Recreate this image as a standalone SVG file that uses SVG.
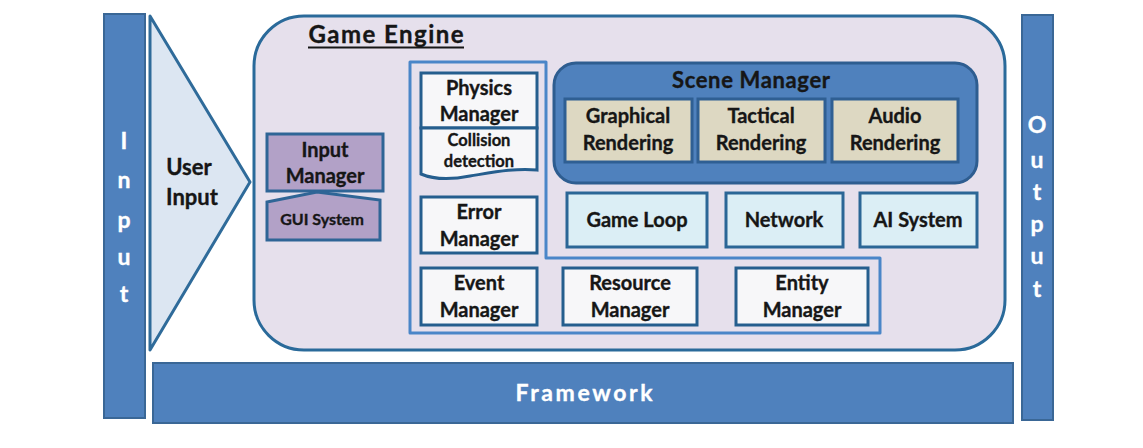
<svg xmlns="http://www.w3.org/2000/svg" width="1143" height="448" viewBox="0 0 1143 448">
<style>
text{font-family:Lato,"Open Sans","Liberation Sans",sans-serif;font-weight:bold;fill:#161616;stroke:#161616;stroke-width:0.35;text-anchor:middle}
.bar{fill:#4F81BD;stroke:#3A6796;stroke-width:2}
.wt{fill:#ffffff;stroke:#ffffff;font-size:23px}
.wbox{fill:#F7F7F9;stroke:#255E8E;stroke-width:3}
.tan{fill:#DDD8C2;stroke:#2F5F93;stroke-width:3}
.lb{fill:#DBEEF5;stroke:#2B6696;stroke-width:3}
.pur{fill:#B2A1C7;stroke:#2F6596;stroke-width:3}
.t18{font-size:20px}
</style>
<rect width="1143" height="448" fill="#ffffff"/>
<g id="input-bar">
<rect class="bar" x="104" y="14" width="41" height="404"/>
<text class="wt" x="124" y="149">I</text>
<text class="wt" x="124" y="188">n</text>
<text class="wt" x="124" y="228">p</text>
<text class="wt" x="124" y="265">u</text>
<text class="wt" x="124" y="302">t</text>
</g>
<g id="output-bar">
<rect class="bar" x="1022" y="15" width="31" height="405"/>
<text class="wt" x="1037" y="133">O</text>
<text class="wt" x="1037" y="168">u</text>
<text class="wt" x="1037" y="200">t</text>
<text class="wt" x="1037" y="232">p</text>
<text class="wt" x="1037" y="264">u</text>
<text class="wt" x="1037" y="297">t</text>
</g>
<g id="framework">
<rect class="bar" x="153" y="363" width="860" height="60"/>
<text class="wt" x="584" y="401" font-size="25" textLength="137">Framework</text>
</g>
<g id="user-input">
<polygon points="150,16 250,182 150,350" fill="#DCE6F2" stroke="#2F6B9A" stroke-width="3" stroke-linejoin="round"/>
<text x="189" y="175" font-size="22">User</text>
<text x="192" y="205" font-size="22">Input</text>
</g>
<g id="game-engine">
<rect x="254" y="16" width="751" height="334" rx="50" fill="#E6E0EC" stroke="#2A6A9A" stroke-width="3"/>
<text x="386" y="43" font-size="24" textLength="155">Game Engine</text>
<line x1="308" y1="47.5" x2="464" y2="47.5" stroke="#161616" stroke-width="2"/>
</g>
<g id="core-container">
<path d="M410,62 H546 V258 H880 V333 H410 Z" fill="none" stroke="#4A86C8" stroke-width="3" stroke-linejoin="round"/>
</g>
<g id="input-manager">
<rect class="pur" x="267" y="134" width="116" height="57"/>
<text class="t18" x="325" y="157">Input</text>
<text class="t18" x="325" y="183">Manager</text>
</g>
<g id="gui-system">
<polygon class="pur" points="267,202 317,192 380,200 380,240 267,240"/>
<text x="322" y="225" font-size="16">GUI System</text>
</g>
<g id="physics-manager">
<rect class="wbox" x="421" y="73" width="116" height="55"/>
<text class="t18" x="479" y="95">Physics</text>
<text class="t18" x="479" y="121">Manager</text>
</g>
<g id="collision-detection">
<path class="wbox" d="M421,128 H537 V170 C515,168 495,172 470,176 C450,180 435,180 421,174 Z"/>
<text x="479" y="146" font-size="16.5">Collision</text>
<text x="479" y="167" font-size="16.5">detection</text>
</g>
<g id="error-manager">
<rect class="wbox" x="421" y="197" width="116" height="56"/>
<text class="t18" x="479" y="219">Error</text>
<text class="t18" x="479" y="246">Manager</text>
</g>
<g id="event-manager">
<rect class="wbox" x="421" y="268" width="116" height="57"/>
<text class="t18" x="479" y="290">Event</text>
<text class="t18" x="479" y="317">Manager</text>
</g>
<g id="resource-manager">
<rect class="wbox" x="563" y="268" width="134" height="57"/>
<text class="t18" x="630" y="290">Resource</text>
<text class="t18" x="630" y="317">Manager</text>
</g>
<g id="entity-manager">
<rect class="wbox" x="736" y="268" width="132" height="57"/>
<text class="t18" x="802" y="290">Entity</text>
<text class="t18" x="802" y="317">Manager</text>
</g>
<g id="scene-manager">
<rect x="554" y="63" width="423" height="120" rx="22" fill="#4F81BD" stroke="#2E5D90" stroke-width="3"/>
<text x="751" y="88" font-size="22" textLength="158">Scene Manager</text>
</g>
<g id="graphical-rendering">
<rect class="tan" x="565" y="99" width="127" height="63"/>
<text class="t18" x="628" y="123">Graphical</text>
<text class="t18" x="628" y="150">Rendering</text>
</g>
<g id="tactical-rendering">
<rect class="tan" x="698" y="99" width="127" height="63"/>
<text class="t18" x="761" y="123">Tactical</text>
<text class="t18" x="761" y="150">Rendering</text>
</g>
<g id="audio-rendering">
<rect class="tan" x="832" y="99" width="126" height="63"/>
<text class="t18" x="895" y="123">Audio</text>
<text class="t18" x="895" y="150">Rendering</text>
</g>
<g id="game-loop">
<rect class="lb" x="567" y="193" width="140" height="54"/>
<text class="t18" x="637" y="227">Game Loop</text>
</g>
<g id="network">
<rect class="lb" x="726" y="193" width="117" height="54"/>
<text class="t18" x="784" y="227">Network</text>
</g>
<g id="ai-system">
<rect class="lb" x="860" y="193" width="117" height="54"/>
<text class="t18" x="918" y="227">AI System</text>
</g>
<g id="connectors"></g>
</svg>
